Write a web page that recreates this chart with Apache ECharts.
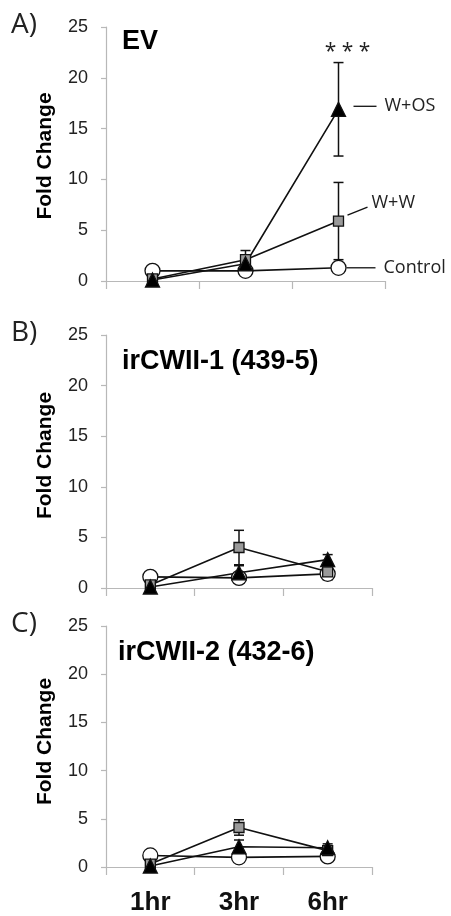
<!DOCTYPE html>
<html>
<head>
<meta charset="utf-8">
<script src="https://cdn.jsdelivr.net/npm/echarts@6/dist/echarts.min.js"></script>
<style>
  html, body { margin: 0; padding: 0; background: #fff; }
  #main { width: 451px; height: 916px; }
</style>
</head>
<body>
<div id="main"></div>
<script>
// Time points
const categories = ['1hr', '3hr', '6hr'];
const yTicks = [0, 5, 10, 15, 20, 25];

// Panel A: EV
const evControl = [1.0, 1.0, 1.3];
const evControlErr = [0.1, 0.1, 0.2];
const evWW = [0.2, 2.1, 5.9];
const evWWErr = [0.1, 0.9, 3.8];
const evWOS = [0.1, 1.7, 16.9];
const evWOSErr = [0.1, 0.4, 4.6];

// Panel B: irCWII-1 (439-5)
const ir1Control = [1.1, 1.0, 1.4];
const ir1ControlErr = [0.1, 0.1, 0.3];
const ir1WW = [0.3, 4.0, 1.6];
const ir1WWErr = [0.1, 1.7, 0.8];
const ir1WOS = [0.1, 1.5, 2.8];
const ir1WOSErr = [0.1, 0.7, 0.5];

// Panel C: irCWII-2 (432-6)
const ir2Control = [1.2, 1.0, 1.1];
const ir2ControlErr = [0.1, 0.1, 0.2];
const ir2WW = [0.3, 4.1, 1.7];
const ir2WWErr = [0.1, 0.8, 0.3];
const ir2WOS = [0.1, 2.1, 2.0];
const ir2WOSErr = [0.1, 0.7, 0.4];

const panels = [
  { letter: 'A)', title: 'EV', control: evControl, controlErr: evControlErr, ww: evWW, wwErr: evWWErr, wos: evWOS, wosErr: evWOSErr },
  { letter: 'B)', title: 'irCWII-1 (439-5)', control: ir1Control, controlErr: ir1ControlErr, ww: ir1WW, wwErr: ir1WWErr, wos: ir1WOS, wosErr: ir1WOSErr },
  { letter: 'C)', title: 'irCWII-2 (432-6)', control: ir2Control, controlErr: ir2ControlErr, ww: ir2WW, wwErr: ir2WWErr, wos: ir2WOS, wosErr: ir2WOSErr }
];

const grids = [
  { left: 106, top: 27, width: 279, height: 254 },
  { left: 106, top: 335, width: 266, height: 253 },
  { left: 106, top: 626, width: 266, height: 243 }
];

const axisGray = '#b8b8b8';
const sans = '"Liberation Sans", Arial, sans-serif';
const soft = '"Open Sans", "Noto Sans", sans-serif';

const xAxes = grids.map((g, i) => ({
  type: 'category',
  gridIndex: i,
  data: categories,
  boundaryGap: true,
  axisLine: { lineStyle: { color: axisGray, width: 1.2 } },
  axisTick: { show: true, alignWithLabel: false, length: 8, lineStyle: { color: axisGray, width: 1.2 } },
  axisLabel: {
    show: i === 2,
    margin: 23,
    fontFamily: sans,
    fontWeight: 'bold',
    fontSize: 26,
    color: '#111'
  }
}));

const yAxes = grids.map((g, i) => ({
  type: 'value',
  gridIndex: i,
  min: 0,
  max: 25,
  interval: 5,
  splitLine: { show: false },
  axisLine: { show: true, lineStyle: { color: axisGray, width: 1.2 } },
  axisTick: { show: true, length: 5, lineStyle: { color: axisGray, width: 1.2 } },
  axisLabel: {
    margin: 18,
    fontFamily: sans,
    fontSize: 18,
    color: '#222',
    formatter: v => (yTicks.indexOf(v) >= 0 ? String(v) : '')
  }
}));

function errRows(means, errs) {
  return means.map((m, k) => [k, m - errs[k], m + errs[k]]);
}

function errorSeries(i, means, errs) {
  return {
    type: 'custom',
    xAxisIndex: i,
    yAxisIndex: i,
    z: 1,
    silent: true,
    data: errRows(means, errs),
    renderItem: function (params, api) {
      const x = api.value(0);
      const lo = api.coord([x, api.value(1)]);
      const hi = api.coord([x, api.value(2)]);
      const cap = 5;
      const st = { stroke: '#111', lineWidth: 1.5 };
      return {
        type: 'group',
        children: [
          { type: 'line', shape: { x1: hi[0], y1: hi[1], x2: lo[0], y2: lo[1] }, style: st },
          { type: 'line', shape: { x1: hi[0] - cap, y1: hi[1], x2: hi[0] + cap, y2: hi[1] }, style: st },
          { type: 'line', shape: { x1: lo[0] - cap, y1: lo[1], x2: lo[0] + cap, y2: lo[1] }, style: st }
        ]
      };
    }
  };
}

function lineSeries(i, name, values, symbol, size, fill) {
  return {
    type: 'line',
    name: name,
    xAxisIndex: i,
    yAxisIndex: i,
    z: 2,
    data: values,
    symbol: symbol,
    symbolSize: size,
    showAllSymbol: true,
    lineStyle: { color: '#111', width: 1.6 },
    itemStyle: { color: fill, borderColor: '#111', borderWidth: 1.3 },
    emphasis: { disabled: true },
    animation: false
  };
}

const series = [];
panels.forEach((p, i) => {
  series.push(errorSeries(i, p.control, p.controlErr));
  series.push(errorSeries(i, p.ww, p.wwErr));
  series.push(errorSeries(i, p.wos, p.wosErr));
  series.push(lineSeries(i, 'Control', p.control, 'circle', 15, '#ffffff'));
  series.push(lineSeries(i, 'W+W', p.ww, 'rect', 10, '#9a9a9a'));
  series.push(lineSeries(i, 'W+OS', p.wos, 'triangle', 14, '#000000'));
});

// Panel letters, panel titles and y-axis titles
const graphics = [];
panels.forEach((p, i) => {
  const g = grids[i];
  graphics.push({
    type: 'text', left: 11, top: g.top - 16,
    style: { text: p.letter, font: '28px ' + soft, fill: '#222' }
  });
  graphics.push({
    type: 'text', x: i === 2 ? 118 : 122, y: g.top + (i === 0 ? 15 : 27),
    style: { text: p.title, font: 'bold 27px ' + sans, fill: '#000', verticalAlign: 'middle' }
  });
  graphics.push({
    type: 'text', x: 45, y: g.top + g.height / 2 + (i === 0 ? 2 : -6), rotation: Math.PI / 2,
    style: { text: 'Fold Change', font: 'bold 21px ' + sans, fill: '#000', align: 'center', verticalAlign: 'middle' }
  });
});

const chart = echarts.init(document.getElementById('main'), null, { renderer: 'canvas' });
chart.setOption({
  animation: false,
  backgroundColor: '#ffffff',
  grid: grids,
  xAxis: xAxes,
  yAxis: yAxes,
  series: series,
  graphic: graphics
});

// Series labels with leader lines and significance stars, placed from the 6hr values of panel A
const last = categories.length - 1;
const pWOS = chart.convertToPixel({ gridIndex: 0 }, [last, evWOS[last]]);
const pWW = chart.convertToPixel({ gridIndex: 0 }, [last, evWW[last]]);
const pCtl = chart.convertToPixel({ gridIndex: 0 }, [last, evControl[last]]);
const pTop = chart.convertToPixel({ gridIndex: 0 }, [last, evWOS[last] + evWOSErr[last]]);
const lineStyle = { stroke: '#111', lineWidth: 1.3 };
const labelFont = '18px ' + soft;

chart.setOption({
  graphic: graphics.concat([
    { type: 'line', shape: { x1: pWOS[0] + 15, y1: pWOS[1] - 3, x2: pWOS[0] + 38, y2: pWOS[1] - 3 }, style: lineStyle },
    { type: 'text', x: pWOS[0] + 46, y: pWOS[1] - 3, style: { text: 'W+OS', font: labelFont, fill: '#222', verticalAlign: 'middle' } },
    { type: 'line', shape: { x1: pWW[0] + 9, y1: pWW[1] - 6, x2: pWW[0] + 29, y2: pWW[1] - 14 }, style: lineStyle },
    { type: 'text', x: pWW[0] + 33, y: pWW[1] - 18, style: { text: 'W+W', font: labelFont, fill: '#222', verticalAlign: 'middle' } },
    { type: 'line', shape: { x1: pCtl[0] + 8, y1: pCtl[1], x2: pCtl[0] + 37, y2: pCtl[1] }, style: lineStyle },
    { type: 'text', x: pCtl[0] + 45, y: pCtl[1], style: { text: 'Control', font: labelFont, fill: '#222', verticalAlign: 'middle' } },
    { type: 'text', x: pTop[0] + 9, y: pTop[1] - 11, style: { text: '* * *', font: '21px ' + soft, fill: '#222', align: 'center', verticalAlign: 'middle' } }
  ])
});
</script>
</body>
</html>
